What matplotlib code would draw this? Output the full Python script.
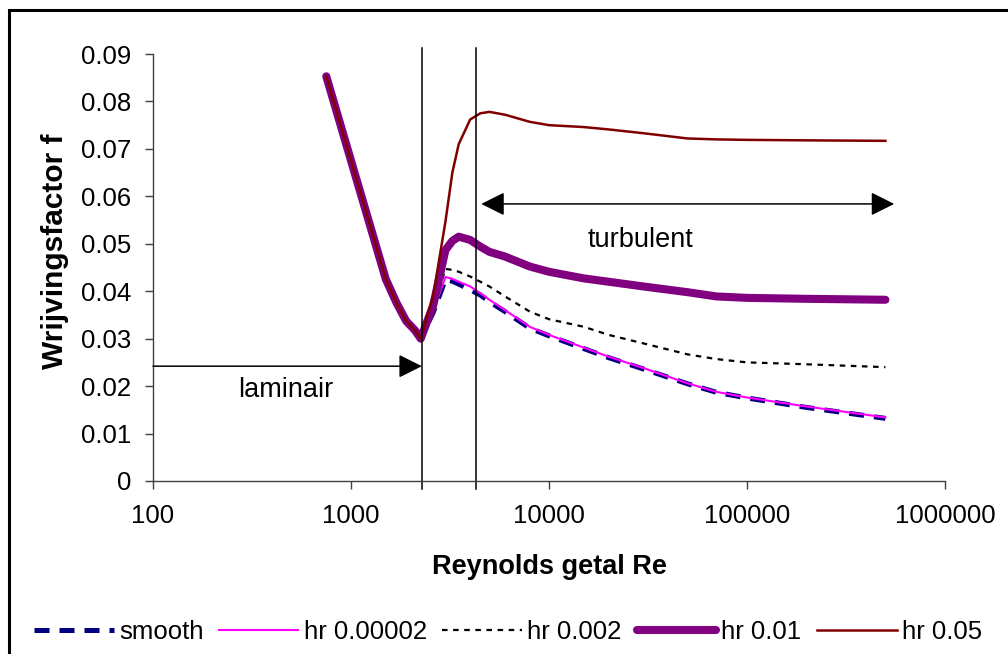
import matplotlib
matplotlib.use("Agg")
import matplotlib.pyplot as plt
from matplotlib.patches import Rectangle
from matplotlib.ticker import FixedLocator, FuncFormatter

plt.rcParams['font.family'] = ['Liberation Sans', 'DejaVu Sans']

# Reynolds numbers (shared by all series)
re_vals = [750, 1500, 1700, 1900, 2100, 2250, 2600, 3000, 3250, 3500, 4000, 4500, 5000, 6000, 8000,
           10000, 15000, 20000, 30000, 50000, 70000, 100000, 200000, 500000]

f_smooth = [0.0853, 0.0425, 0.0375, 0.0337, 0.0318, 0.0300, 0.0355, 0.0425, 0.0421, 0.0415, 0.0403,
            0.0392, 0.0378, 0.0357, 0.0322, 0.0306, 0.0279, 0.0260, 0.0236, 0.0205, 0.0187, 0.0175,
            0.0155, 0.0132]
f_hr_00002 = [0.0853, 0.0425, 0.0375, 0.0337, 0.0318, 0.0300, 0.0358, 0.0430, 0.0426, 0.0420, 0.0410,
              0.0396, 0.0382, 0.0360, 0.0325, 0.0308, 0.0281, 0.0262, 0.0238, 0.0206, 0.0188, 0.0176,
              0.0157, 0.0134]
f_hr_002 = [0.0853, 0.0425, 0.0375, 0.0337, 0.0318, 0.0300, 0.0365, 0.0447, 0.0445, 0.0441, 0.0431,
            0.0420, 0.0410, 0.0389, 0.0357, 0.0341, 0.0325, 0.0308, 0.0290, 0.0267, 0.0257, 0.0250,
            0.0246, 0.0240]
f_hr_01 = [0.0853, 0.0425, 0.0375, 0.0337, 0.0318, 0.0300, 0.0370, 0.0487, 0.0506, 0.0515, 0.0508,
           0.0494, 0.0483, 0.0473, 0.0452, 0.0441, 0.0427, 0.0420, 0.0410, 0.0398, 0.0389, 0.0386,
           0.0384, 0.0382]
f_hr_05 = [0.0853, 0.0425, 0.0375, 0.0337, 0.0318, 0.0300, 0.0390, 0.0547, 0.0650, 0.0710, 0.0762,
           0.0775, 0.0778, 0.0772, 0.0757, 0.0750, 0.0746, 0.0741, 0.0733, 0.0722, 0.0720, 0.0719,
           0.0718, 0.0717]

x_ticks = [100, 1000, 10000, 100000, 1000000]
y_ticks = [0, 0.01, 0.02, 0.03, 0.04, 0.05, 0.06, 0.07, 0.08, 0.09]

# regime boundaries and annotation arrows
re_lam_end = 2280
re_turb_start = 4260
lam_arrow = (100, 2280, 0.0242)
turb_arrow = (4550, 554000, 0.0584)

fig = plt.figure(figsize=(10.08, 6.54), dpi=100)
ax = fig.add_axes([153 / 1008, 1 - 481 / 654, 792 / 1008, 427 / 654])

ax.plot(re_vals, f_smooth, color="#000080", lw=3.6, ls=(0, (3, 2)), dash_capstyle="butt", label="smooth")
ax.plot(re_vals, f_hr_00002, color="#FF00FF", lw=1.5, label="hr 0.00002")
ax.plot(re_vals, f_hr_002, color="black", lw=1.6, ls=(0, (2.5, 2.5)), label="hr 0.002")
ax.plot(re_vals, f_hr_01, color="#800080", lw=5.8, solid_capstyle="round", solid_joinstyle="round",
        label="hr 0.01")
ax.plot(re_vals, f_hr_05, color="#800000", lw=1.8, solid_joinstyle="round", label="hr 0.05")

# vertical boundary lines (stick out a little past the plot area)
for re_b in (re_lam_end, re_turb_start):
    ax.plot([re_b, re_b], [-0.019, 1.015], color="black", lw=1.1,
            transform=ax.get_xaxis_transform(), clip_on=False)

ax.annotate("", xy=(lam_arrow[1], lam_arrow[2]), xytext=(lam_arrow[0], lam_arrow[2]),
            arrowprops=dict(arrowstyle="-|>,head_length=0.8,head_width=0.4", mutation_scale=18,
                            color="black", lw=1.1, shrinkA=0, shrinkB=0))
ax.annotate("", xy=(turb_arrow[1], turb_arrow[2]), xytext=(turb_arrow[0], turb_arrow[2]),
            arrowprops=dict(arrowstyle="<|-|>,head_length=0.8,head_width=0.4", mutation_scale=18,
                            color="black", lw=1.1, shrinkA=0, shrinkB=0))
ax.text(470, 0.0191, "laminair", fontsize=19.5, ha="center", va="center")
ax.text(29000, 0.0509, "turbulent", fontsize=19.5, ha="center", va="center")

ax.set_xscale("log")
ax.set_xlim(100, 1000000)
ax.set_ylim(0, 0.09)
ax.xaxis.set_major_locator(FixedLocator(x_ticks))
ax.xaxis.set_minor_locator(FixedLocator([]))
ax.xaxis.set_major_formatter(FuncFormatter(lambda v, p: f"{int(round(v))}"))
ax.yaxis.set_major_locator(FixedLocator(y_ticks))
ax.yaxis.set_major_formatter(FuncFormatter(lambda v, p: "0" if v == 0 else f"{v:.2f}"))

for s in ("top", "right"):
    ax.spines[s].set_visible(False)
for s in ("left", "bottom"):
    ax.spines[s].set_color("#404040")
    ax.spines[s].set_linewidth(1.0)
ax.tick_params(axis="both", direction="out", length=5.5, width=1.0, color="#404040", labelsize=18.5)
ax.tick_params(axis="y", pad=10)
ax.tick_params(axis="x", pad=11)

ax.set_xlabel("Reynolds getal Re", fontsize=19.5, fontweight="bold")
ax.xaxis.set_label_coords(0.5, -0.171)
ax.set_ylabel("Wrijvingsfactor f", fontsize=21.5, fontweight="bold")
ax.yaxis.set_label_coords(-0.106, 0.539)

fig.legend(loc="center", bbox_to_anchor=(508 / 1008, 1 - 632 / 654), ncol=5, frameon=False,
           fontsize=18.5, handlelength=3.1, handletextpad=0.2, columnspacing=0.6, borderpad=0)

# outer chart border
fig.add_artist(Rectangle((9, -30), 1040, 674, transform=None, fill=False, lw=2.2,
                         edgecolor="black", clip_on=False))

fig.savefig("out.png", dpi=100)
